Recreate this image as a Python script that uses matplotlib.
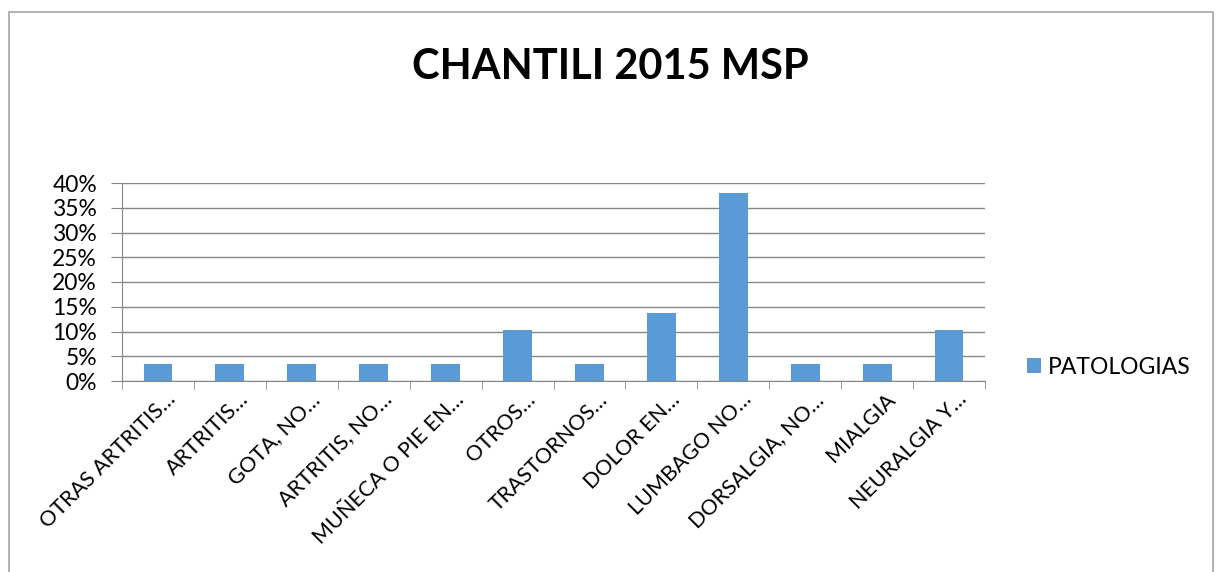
import matplotlib.pyplot as plt
from matplotlib.ticker import FuncFormatter, MultipleLocator
import numpy as np

plt.rcParams['font.family'] = ['Lato', 'DejaVu Sans']

categories = ["OTRAS ARTRITIS…", "ARTRITIS…", "GOTA, NO…", "ARTRITIS, NO…",
              "MUÑECA O PIE EN…", "OTROS…", "TRASTORNOS…", "DOLOR EN…",
              "LUMBAGO NO…", "DORSALGIA, NO…", "MIALGIA", "NEURALGIA Y…"]
patologias = [0.0345, 0.0345, 0.0345, 0.0345, 0.0345, 0.1034, 0.0345, 0.1379,
              0.3793, 0.0345, 0.0345, 0.1034]
title = "CHANTILI 2015 MSP"
series_name = "PATOLOGIAS"

W, H = 1219, 572
fig = plt.figure(figsize=(W / 100, H / 100), dpi=100)
# chart border (bottom edge is cut off in the reference)
fig.patches.append(plt.Rectangle((9 / W, -0.1), (1213 - 9) / W, 1.1 - 12 / H,
                                 transform=fig.transFigure, fill=False,
                                 edgecolor='#a6a6a6', linewidth=1.2))

left, right, top, bottom = 122, 985, 183, 381
ax = fig.add_axes([left / W, 1 - bottom / H, (right - left) / W, (bottom - top) / H])

x = np.arange(len(categories))
bars = ax.bar(x, patologias, width=0.4, color='#5b9bd5', label=series_name, zorder=3)

ax.set_xlim(-0.5, len(categories) - 0.5)
ax.set_ylim(0, 0.40)
ax.yaxis.set_major_locator(MultipleLocator(0.05))
ax.yaxis.set_major_formatter(FuncFormatter(lambda v, p: f"{v * 100:.0f}%"))
ax.grid(axis='y', color='#868686', linewidth=1.0, zorder=0)

for s in ['top', 'right']:
    ax.spines[s].set_visible(False)
for s in ['left', 'bottom']:
    ax.spines[s].set_color('#868686')
    ax.spines[s].set_zorder(4)

# labels sit slightly right of the bar centre, like Excel does
ax.set_xticks(x + 0.11)
ax.set_xticklabels(categories, rotation=45, ha='right', va='top',
                   rotation_mode='anchor', fontsize=15.5)
ax.set_xticks(np.arange(len(categories) + 1) - 0.5, minor=True)
ax.tick_params(axis='x', which='major', length=0, pad=6)
ax.tick_params(axis='x', which='minor', length=6, color='#868686', direction='out')
ax.tick_params(axis='y', length=8, color='#868686', labelsize=16.5, pad=10)

fig.text(610 / W, 1 - 67 / H, title, ha='center', va='center',
         fontsize=30, fontweight='bold')

leg = fig.legend(handles=[bars], labels=[series_name], loc='center left',
                 bbox_to_anchor=(1027 / W, 1 - 367 / H), frameon=False,
                 borderpad=0, borderaxespad=0, fontsize=16.5,
                 handlelength=0.61, handleheight=0.61, handletextpad=0.3)

fig.savefig('out.png', dpi=100, facecolor='white')
